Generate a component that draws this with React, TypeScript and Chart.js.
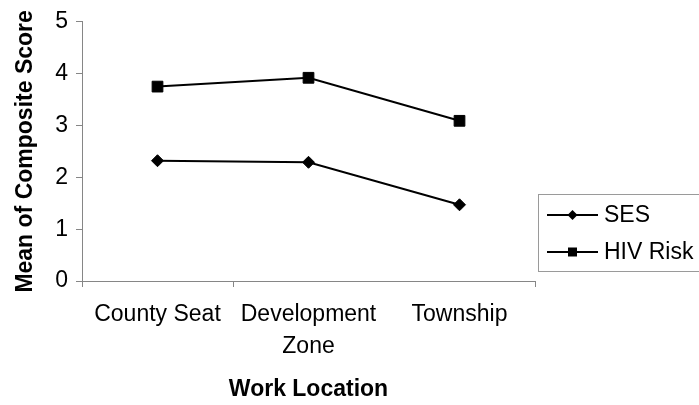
import React, { useEffect, useRef } from "react";
import { Chart, registerables } from "chart.js";

Chart.register(...registerables);

// Work locations along the x axis
const categories: (string | string[])[] = ["County Seat", ["Development", "Zone"], "Township"];
// Mean composite scores per location
const sesValues = [2.32, 2.29, 1.47];
const hivRiskValues = [3.75, 3.92, 3.09];
const yTicks = [0, 1, 2, 3, 4, 5];

const FONT = "'Liberation Sans', Arial, Helvetica, sans-serif";
const AXIS_GREY = "#868686";

// Boxed legend placed at the right of the plot
const boxLegend = {
  id: "boxLegend",
  afterDraw(chart: any) {
    const { ctx } = chart;
    const area = chart.chartArea;
    const left = area.right + 3;
    const top = 194;
    const rowH = 37;
    ctx.save();
    ctx.strokeStyle = "#9a9a9a";
    ctx.lineWidth = 1;
    ctx.strokeRect(Math.round(left) + 0.5, top + 0.5, 220, 77);
    chart.data.datasets.forEach((ds: any, i: number) => {
      const y = top + 21 + i * rowH;
      const x0 = left + 9;
      const x1 = left + 60;
      const cx = (x0 + x1) / 2;
      ctx.strokeStyle = ds.borderColor;
      ctx.lineWidth = 2;
      ctx.beginPath();
      ctx.moveTo(x0, y);
      ctx.lineTo(x1, y);
      ctx.stroke();
      ctx.fillStyle = ds.pointBackgroundColor;
      ctx.beginPath();
      if (ds.pointStyle === "rectRot") {
        const r = 5;
        ctx.moveTo(cx - r, y);
        ctx.lineTo(cx, y - r);
        ctx.lineTo(cx + r, y);
        ctx.lineTo(cx, y + r);
        ctx.closePath();
      } else {
        const s = 4.5;
        ctx.rect(cx - s, y - s, 2 * s, 2 * s);
      }
      ctx.fill();
      ctx.fillStyle = "#000";
      ctx.font = `23px ${FONT}`;
      ctx.textAlign = "left";
      ctx.textBaseline = "middle";
      ctx.fillText(ds.label, x1 + 6, y + 1);
    });
    ctx.restore();
  },
};

export default function App() {
  const canvasRef = useRef<HTMLCanvasElement | null>(null);

  useEffect(() => {
    document.body.style.margin = "0";
    const canvas = canvasRef.current;
    if (!canvas) return;
    const chart = new Chart(canvas, {
      type: "line",
      data: {
        labels: categories,
        datasets: [
          {
            label: "SES",
            data: sesValues,
            borderColor: "#000",
            borderWidth: 2,
            pointStyle: "rectRot",
            pointRadius: 6,
            pointBackgroundColor: "#000",
            pointBorderColor: "#000",
            pointBorderWidth: 1,
            tension: 0,
          },
          {
            label: "HIV Risk",
            data: hivRiskValues,
            borderColor: "#000",
            borderWidth: 2,
            pointStyle: "rect",
            pointRadius: 7.6,
            pointBackgroundColor: "#000",
            pointBorderColor: "#000",
            pointBorderWidth: 1,
            tension: 0,
          },
        ],
      },
      options: {
        responsive: false,
        animation: false,
        devicePixelRatio: 1,
        layout: { padding: { top: 17, right: 164, left: 0, bottom: 0 } },
        plugins: {
          legend: { display: false },
          tooltip: { enabled: false },
        },
        scales: {
          x: {
            type: "category",
            offset: true,
            grid: {
              offset: true,
              drawOnChartArea: false,
              drawTicks: true,
              tickLength: 6,
              tickColor: (c: any) => (c.index === 2 ? "rgba(0,0,0,0)" : AXIS_GREY),
            },
            border: { display: true, color: AXIS_GREY, width: 1 },
            ticks: {
              color: "#000",
              padding: 12,
              maxRotation: 0,
              autoSkip: false,
              font: { family: FONT, size: 23, lineHeight: 1.39 },
            },
            title: {
              display: true,
              text: "Work Location",
              color: "#000",
              padding: { top: 0, bottom: 2 },
              font: { family: FONT, size: 23, weight: "bold", lineHeight: 1.2 },
            },
            afterFit: (scale: any) => {
              scale.height = 124;
            },
          },
          y: {
            min: yTicks[0],
            max: yTicks[yTicks.length - 1],
            afterBuildTicks: (scale: any) => {
              scale.ticks = yTicks.map((v) => ({ value: v }));
            },
            grid: {
              drawOnChartArea: false,
              drawTicks: true,
              tickLength: 6,
              tickColor: AXIS_GREY,
            },
            border: { display: true, color: AXIS_GREY, width: 1 },
            ticks: {
              color: "#000",
              padding: 8,
              font: { family: FONT, size: 23, lineHeight: 1.2 },
            },
            title: {
              display: true,
              text: "Mean of Composite Score",
              color: "#000",
              padding: { top: 12, bottom: 0 },
              font: { family: FONT, size: 23, weight: "bold", lineHeight: 1.2 },
            },
            afterFit: (scale: any) => {
              scale.width = 82;
            },
          },
        },
      },
      plugins: [boxLegend],
    } as any);
    return () => chart.destroy();
  }, []);

  return (
    <div style={{ position: "fixed", left: 0, top: 0, width: 699, height: 405, background: "#fff" }}>
      <canvas ref={canvasRef} width={699} height={405} />
    </div>
  );
}
